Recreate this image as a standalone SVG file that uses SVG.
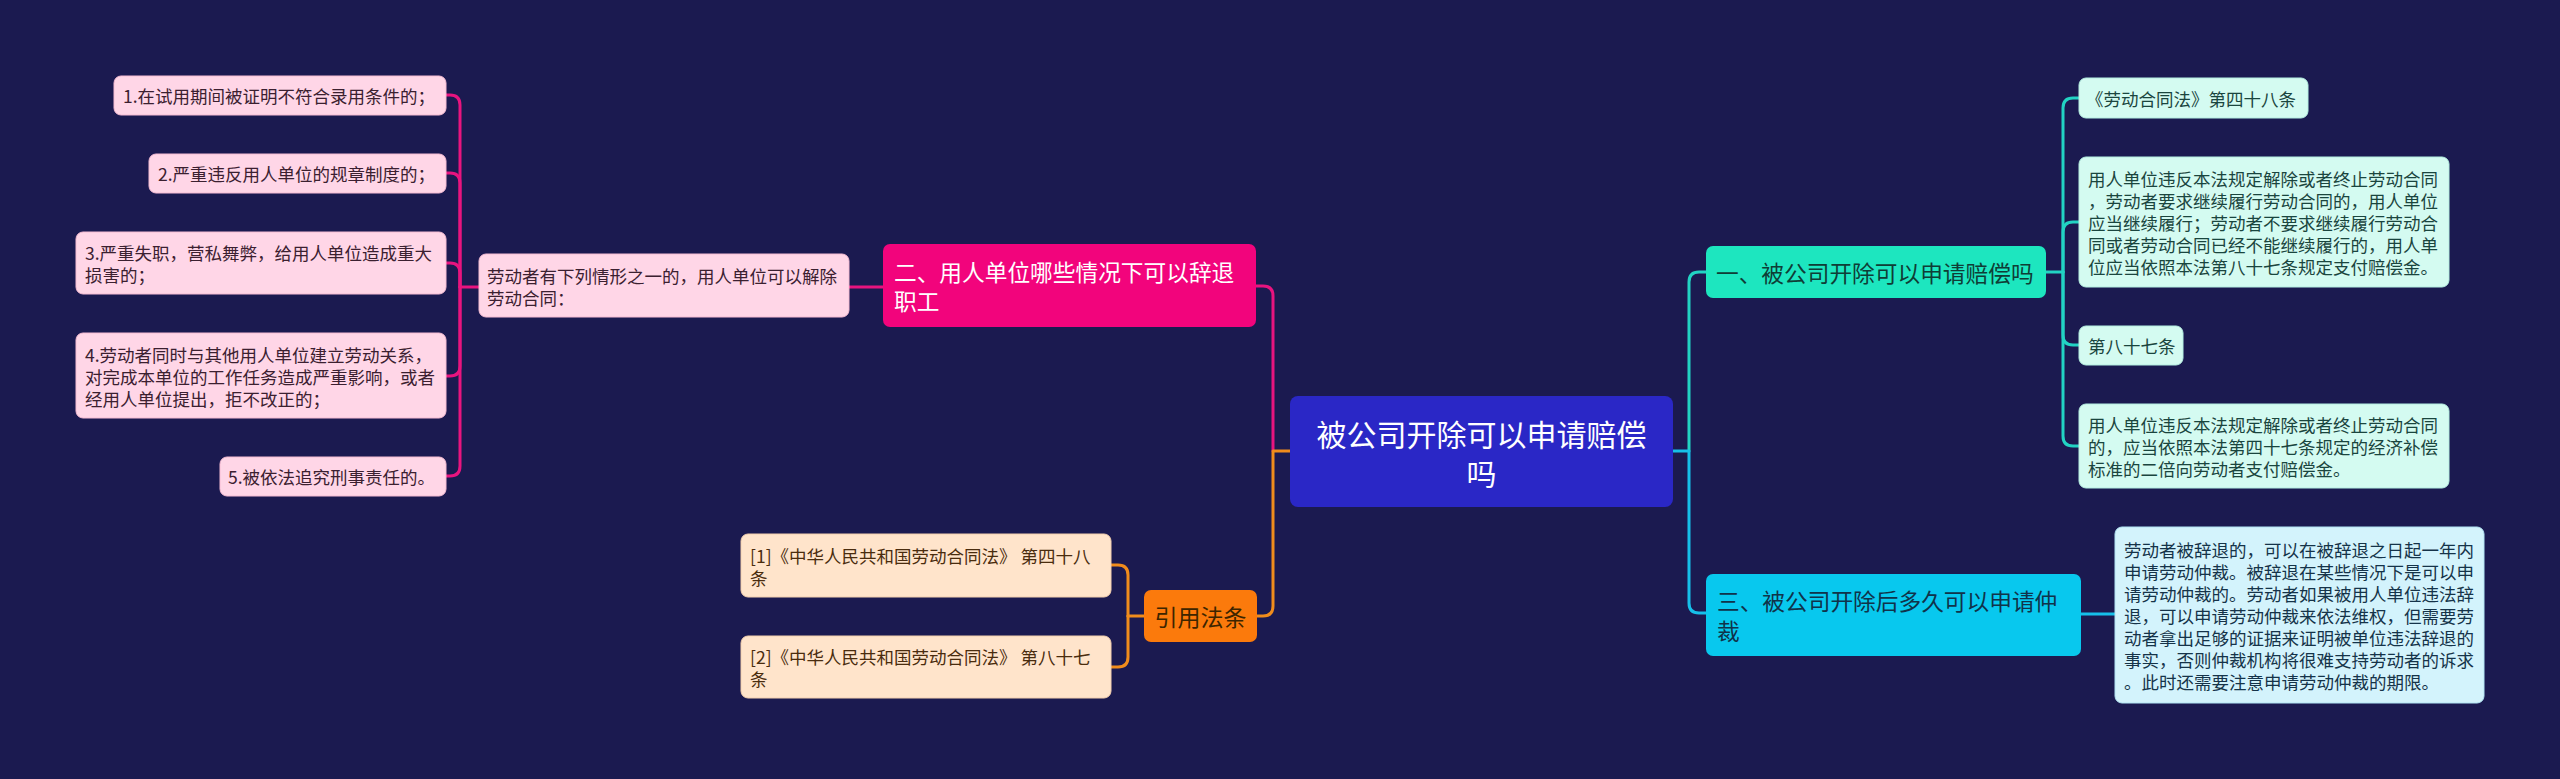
<svg xmlns="http://www.w3.org/2000/svg" width="2560" height="779" viewBox="0 0 2560 779">
<style>
text{font-family:"Noto Sans CJK SC","Noto Sans",sans-serif;dominant-baseline:central}
.t17{font-size:17.5px}
.t23{font-size:22.7px}
.conn path{fill:none;stroke-width:3;stroke-linecap:round;stroke-linejoin:round}
.mag{stroke:#e8147f}
.org{stroke:#f08c1c}
.teal{stroke:#22d3c3}
.cyan{stroke:#16bfe9}
.pink rect{fill:#ffd6e7;stroke:#f5bcd3;stroke-width:1}
.pink text{fill:#3b2030}
.mint rect{fill:#d4fbf1;stroke:#b4eee0;stroke-width:1}
.mint text{fill:#1a453e}
.sky rect{fill:#d3f3fc;stroke:#b2e4f3;stroke-width:1}
.sky text{fill:#153349}
.peach rect{fill:#ffe4cb;stroke:#f3cfae;stroke-width:1}
.peach text{fill:#4a2c0e}
</style>
<rect x="0" y="0" width="2560" height="779" fill="#1b1a50"/>
<g id="connectors" class="conn">
  <path class="mag" d="M1273,451 V296 Q1273,286 1263,286 H1256"/>
  <path class="mag" d="M883,287 H849"/>
  <path class="mag" d="M479,287 H460"/>
  <path class="mag" d="M460,287 V105 Q460,95 450,95 H446"/>
  <path class="mag" d="M460,287 V183 Q460,173 450,173 H446"/>
  <path class="mag" d="M460,287 V273 Q460,263 450,263 H446"/>
  <path class="mag" d="M460,287 V366 Q460,376 450,376 H446"/>
  <path class="mag" d="M460,287 V466 Q460,476 450,476 H446"/>
  <path class="org" d="M1290,451 H1273 V606 Q1273,616 1263,616 H1257"/>
  <path class="org" d="M1144,616 H1128"/>
  <path class="org" d="M1128,616 V575 Q1128,565 1118,565 H1111"/>
  <path class="org" d="M1128,616 V657 Q1128,667 1118,667 H1111"/>
  <path class="teal" d="M1689,451 V282 Q1689,272 1699,272 H1706"/>
  <path class="teal" d="M2046,272 H2063"/>
  <path class="teal" d="M2063,272 V108 Q2063,98 2073,98 H2079"/>
  <path class="teal" d="M2063,272 V232 Q2063,222 2073,222 H2079"/>
  <path class="teal" d="M2063,272 V335 Q2063,345 2073,345 H2079"/>
  <path class="teal" d="M2063,272 V436 Q2063,446 2073,446 H2079"/>
  <path class="cyan" d="M1673,451 H1689 V603 Q1689,613 1699,613 H1706"/>
  <path class="cyan" d="M2081,614 H2115"/>
</g>
<g id="root">
  <rect x="1290" y="396" width="383" height="111" rx="8" fill="#2a27c6"/>
  <text x="1481.5" y="433" font-size="30" fill="#ffffff" text-anchor="middle">被公司开除可以申请赔偿</text>
  <text x="1481.5" y="472" font-size="30" fill="#ffffff" text-anchor="middle">吗</text>
</g>
<g id="n2">
  <rect x="883" y="244" width="373" height="83" rx="7" fill="#f2047c"/>
  <text class="t23" x="894" y="271" fill="#ffffff">二、用人单位哪些情况下可以辞退</text>
  <text class="t23" x="894" y="300" fill="#ffffff">职工</text>
</g>
<g id="n2a" class="pink">
  <rect x="479" y="254" width="370" height="63" rx="7"/>
  <text class="t17" x="487" y="275">劳动者有下列情形之一的，用人单位可以解除</text>
  <text class="t17" x="487" y="297">劳动合同：</text>
</g>
<g id="i1" class="pink">
  <rect x="114" y="76" width="332" height="39" rx="7"/>
  <text class="t17" x="123" y="95.5">1.在试用期间被证明不符合录用条件的；</text>
</g>
<g id="i2" class="pink">
  <rect x="149" y="154" width="297" height="39" rx="7"/>
  <text class="t17" x="158" y="173.5">2.严重违反用人单位的规章制度的；</text>
</g>
<g id="i3" class="pink">
  <rect x="76" y="232" width="370" height="62" rx="7"/>
  <text class="t17" x="85" y="252">3.严重失职，营私舞弊，给用人单位造成重大</text>
  <text class="t17" x="85" y="274">损害的；</text>
</g>
<g id="i4" class="pink">
  <rect x="76" y="333" width="370" height="85" rx="7"/>
  <text class="t17" x="85" y="354">4.劳动者同时与其他用人单位建立劳动关系，</text>
  <text class="t17" x="85" y="376">对完成本单位的工作任务造成严重影响，或者</text>
  <text class="t17" x="85" y="398">经用人单位提出，拒不改正的；</text>
</g>
<g id="i5" class="pink">
  <rect x="220" y="457" width="226" height="39" rx="7"/>
  <text class="t17" x="228" y="476.5">5.被依法追究刑事责任的。</text>
</g>
<g id="ref">
  <rect x="1144" y="590" width="113" height="52" rx="7" fill="#fb7a0c"/>
  <text x="1200.5" y="616" font-size="23" fill="#3d2500" text-anchor="middle">引用法条</text>
</g>
<g id="ref1" class="peach">
  <rect x="741" y="534" width="370" height="63" rx="7"/>
  <text class="t17" x="750" y="555">[1]《中华人民共和国劳动合同法》 第四十八</text>
  <text class="t17" x="750" y="577">条</text>
</g>
<g id="ref2" class="peach">
  <rect x="741" y="636" width="370" height="62" rx="7"/>
  <text class="t17" x="750" y="656">[2]《中华人民共和国劳动合同法》 第八十七</text>
  <text class="t17" x="750" y="678">条</text>
</g>
<g id="n1">
  <rect x="1706" y="246" width="340" height="52" rx="7" fill="#1de6bf"/>
  <text class="t23" x="1716" y="272" fill="#0f3d36">一、被公司开除可以申请赔偿吗</text>
</g>
<g id="c1" class="mint">
  <rect x="2079" y="78" width="229" height="40" rx="7"/>
  <text class="t17" x="2086" y="98">《劳动合同法》第四十八条</text>
</g>
<g id="c2" class="mint">
  <rect x="2079" y="157" width="370" height="130" rx="7"/>
  <text class="t17" x="2088" y="178">用人单位违反本法规定解除或者终止劳动合同</text>
  <text class="t17" x="2088" y="200">，劳动者要求继续履行劳动合同的，用人单位</text>
  <text class="t17" x="2088" y="222">应当继续履行；劳动者不要求继续履行劳动合</text>
  <text class="t17" x="2088" y="244">同或者劳动合同已经不能继续履行的，用人单</text>
  <text class="t17" x="2088" y="266">位应当依照本法第八十七条规定支付赔偿金。</text>
</g>
<g id="c3" class="mint">
  <rect x="2079" y="326" width="104" height="39" rx="7"/>
  <text class="t17" x="2088" y="345.5">第八十七条</text>
</g>
<g id="c4" class="mint">
  <rect x="2079" y="404" width="370" height="84" rx="7"/>
  <text class="t17" x="2088" y="424">用人单位违反本法规定解除或者终止劳动合同</text>
  <text class="t17" x="2088" y="446">的，应当依照本法第四十七条规定的经济补偿</text>
  <text class="t17" x="2088" y="468">标准的二倍向劳动者支付赔偿金。</text>
</g>
<g id="n3">
  <rect x="1706" y="574" width="375" height="82" rx="7" fill="#08c8ee"/>
  <text class="t23" x="1717" y="600" fill="#10334a">三、被公司开除后多久可以申请仲</text>
  <text class="t23" x="1717" y="630" fill="#10334a">裁</text>
</g>
<g id="c5" class="sky">
  <rect x="2115" y="527" width="369" height="176" rx="7"/>
  <text class="t17" x="2124" y="549">劳动者被辞退的，可以在被辞退之日起一年内</text>
  <text class="t17" x="2124" y="571">申请劳动仲裁。被辞退在某些情况下是可以申</text>
  <text class="t17" x="2124" y="593">请劳动仲裁的。劳动者如果被用人单位违法辞</text>
  <text class="t17" x="2124" y="615">退，可以申请劳动仲裁来依法维权，但需要劳</text>
  <text class="t17" x="2124" y="637">动者拿出足够的证据来证明被单位违法辞退的</text>
  <text class="t17" x="2124" y="659">事实，否则仲裁机构将很难支持劳动者的诉求</text>
  <text class="t17" x="2124" y="681">。此时还需要注意申请劳动仲裁的期限。</text>
</g>
</svg>
